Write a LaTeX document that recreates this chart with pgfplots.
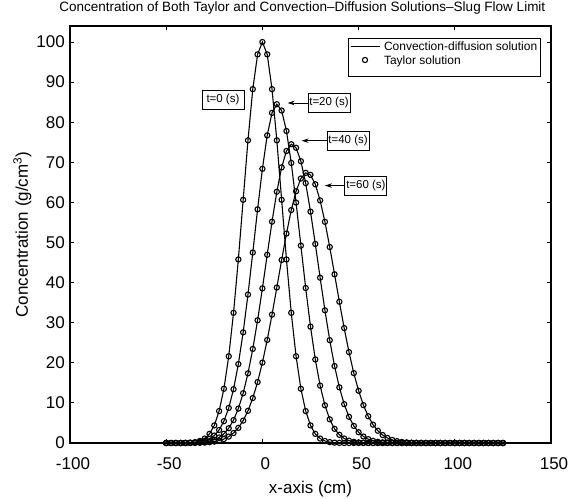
\documentclass[border=0pt]{standalone}
\usepackage{fontspec}
\setmainfont{Liberation Sans}
\usepackage{pgfplots}
\pgfplotsset{compat=1.18}
\usepackage{pgfplotstable}
\usetikzlibrary{arrows.meta}

\pgfplotsset{
  mylegline/.style={legend image code/.code={\draw[##1] (0pt,0pt) -- (29pt,0pt);}},
  mylegmark/.style={legend image code/.code={\draw[##1] plot coordinates {(14.5pt,0pt)};}},
  curve/.style={black, line width=1.1pt},
  taylor/.style={black, only marks, mark=o, mark size=2.6pt, line width=1.1pt},
}

\pgfplotstableread{
x c0 c1 c2 c3
-50 0 0 0 0
-47.5 0 0 0 0
-45 0 0 0 0
-42.5 0.01 0.01 0 0
-40 0.03 0.02 0.01 0
-37.5 0.09 0.06 0.03 0.01
-35 0.22 0.13 0.06 0.03
-32.5 0.51 0.26 0.13 0.06
-30 1.11 0.53 0.24 0.11
-27.5 2.28 1.01 0.45 0.20
-25 4.39 1.85 0.80 0.35
-22.5 7.96 3.25 1.38 0.60
-20 13.53 5.45 2.29 0.99
-17.5 21.63 8.75 3.69 1.59
-15 32.47 13.42 5.72 2.49
-12.5 45.78 19.68 8.58 3.78
-10 60.65 27.60 12.42 5.59
-7.5 75.48 37.03 17.37 8.03
-5 88.25 47.50 23.46 11.21
-2.5 96.92 58.28 30.61 15.20
0 100 68.38 38.57 20.05
2.5 96.92 76.72 46.94 25.70
5 88.25 82.33 55.20 32.02
7.5 75.48 84.49 62.67 38.78
10 60.65 82.92 68.74 45.65
12.5 45.78 77.82 72.82 52.22
15 32.47 69.85 74.51 58.08
17.5 21.63 59.96 73.63 62.78
20 13.53 49.23 70.28 65.96
22.5 7.96 38.65 64.81 67.37
25 4.39 29.02 57.70 66.87
27.5 2.28 20.84 49.64 64.52
30 1.11 14.31 41.23 60.50
32.5 0.51 9.40 33.09 55.16
35 0.22 5.90 25.64 48.87
37.5 0.09 3.54 19.19 42.08
40 0.03 2.04 13.88 35.23
42.5 0.01 1.12 9.69 28.66
45 0 0.59 6.54 22.67
47.5 0 0.29 4.26 17.43
50 0 0.14 2.68 13.02
52.5 0 0.07 1.63 9.45
55 0 0.03 0.96 6.67
57.5 0 0.01 0.54 4.58
60 0 0 0.30 3.05
62.5 0 0 0.16 1.98
65 0 0 0.08 1.25
67.5 0 0 0.04 0.76
70 0 0 0.02 0.45
72.5 0 0 0.01 0.26
75 0 0 0 0.15
77.5 0 0 0 0.08
80 0 0 0 0.04
82.5 0 0 0 0.02
85 0 0 0 0.01
87.5 0 0 0 0
90 0 0 0 0
92.5 0 0 0 0
95 0 0 0 0
97.5 0 0 0 0
100 0 0 0 0
102.5 0 0 0 0
105 0 0 0 0
107.5 0 0 0 0
110 0 0 0 0
112.5 0 0 0 0
115 0 0 0 0
117.5 0 0 0 0
120 0 0 0 0
122.5 0 0 0 0
125 0 0 0 0
}\conc

\begin{document}
\begin{tikzpicture}
\begin{axis}[
  scale only axis, width=481pt, height=417pt,
  xmin=-100, xmax=150, ymin=0, ymax=104,
  xtick={-100,-50,0,50,100,150},
  ytick={0,10,20,30,40,50,60,70,80,90,100},
  tick align=inside, major tick length=4pt,
  axis line style={line width=1.1pt},
  every tick/.style={black, line width=0.9pt},
  tick label style={font=\fontsize{17}{20}\selectfont},
  /pgf/number format/assume math mode=true,
  xticklabel style={anchor=base, yshift=-26.5pt, xshift=3pt},
  yticklabel style={anchor=east, inner sep=0pt, xshift=-5pt},
  title={Concentration of Both Taylor and Convection--Diffusion Solutions--Slug Flow Limit},
  title style={font=\fontsize{13.5}{16}\selectfont, anchor=base, at={(0.483,1)}, yshift=8pt},
  xlabel={x-axis (cm)},
  xlabel style={font=\fontsize{17}{20}\selectfont, at={(axis description cs:0.5,0)}, anchor=base, yshift=-50pt},
  ylabel={Concentration (g/cm\textsuperscript{3})},
  ylabel style={font=\fontsize{17}{20}\selectfont, at={(axis description cs:0,0.5)}, anchor=base, yshift=42pt},
  legend style={at={(0.9786,0.9705)}, anchor=north east, draw=black, line width=0.9pt,
    font=\fontsize{12}{14}\selectfont, inner xsep=2pt, inner ysep=1pt,
    row sep=0pt, column sep=3pt, nodes={inner sep=1pt}},
  legend cell align=left,
]
\addplot[curve, mylegline] table[x=x,y=c0]{\conc};
\addlegendentry{\rule[-3pt]{0pt}{13pt}Convection-diffusion solution}
\addplot[taylor, mylegmark] table[x=x,y=c0]{\conc};
\addlegendentry{\rule[-3pt]{0pt}{13pt}Taylor solution}
\addlegendimage{empty legend}
\addlegendentry{\rule{0pt}{5pt}}

\addplot[curve, forget plot] table[x=x,y=c1]{\conc};
\addplot[curve, forget plot] table[x=x,y=c2]{\conc};
\addplot[curve, forget plot] table[x=x,y=c3]{\conc};
\addplot[taylor, forget plot] table[x=x,y=c1]{\conc};
\addplot[taylor, forget plot] table[x=x,y=c2]{\conc};
\addplot[taylor, forget plot] table[x=x,y=c3]{\conc};

\node[draw, line width=0.9pt, fill=white, font=\fontsize{11.5}{13}\selectfont, minimum width=42pt, minimum height=19pt, inner sep=1pt] at (axis cs:-20.5,85.6) {t=0 (s)};
\node[draw, line width=0.9pt, fill=white, font=\fontsize{11.5}{13}\selectfont, minimum width=42pt, minimum height=19pt, inner sep=1pt] (b20) at (axis cs:34.6,84.8) {t=20 (s)};
\node[draw, line width=0.9pt, fill=white, font=\fontsize{11.5}{13}\selectfont, minimum width=42pt, minimum height=19pt, inner sep=1pt] (b40) at (axis cs:44.5,75.4) {t=40 (s)};
\node[draw, line width=0.9pt, fill=white, font=\fontsize{11.5}{13}\selectfont, minimum width=42pt, minimum height=19pt, inner sep=1pt] (b60) at (axis cs:53.8,64.2) {t=60 (s)};
\draw[-{Stealth[length=7pt,width=4.5pt]}, line width=0.9pt] (b20.west) -- (axis cs:13.1,84.8);
\draw[-{Stealth[length=7pt,width=4.5pt]}, line width=0.9pt] (b40.west) -- (axis cs:20.4,75.4);
\draw[-{Stealth[length=7pt,width=4.5pt]}, line width=0.9pt] (b60.west) -- (axis cs:32.5,64.2);
\end{axis}
\pgfresetboundingbox
\path ([xshift=-70pt,yshift=-55pt]current axis.south west) rectangle ([xshift=29pt,yshift=26pt]current axis.north east);
\end{tikzpicture}
\end{document}
